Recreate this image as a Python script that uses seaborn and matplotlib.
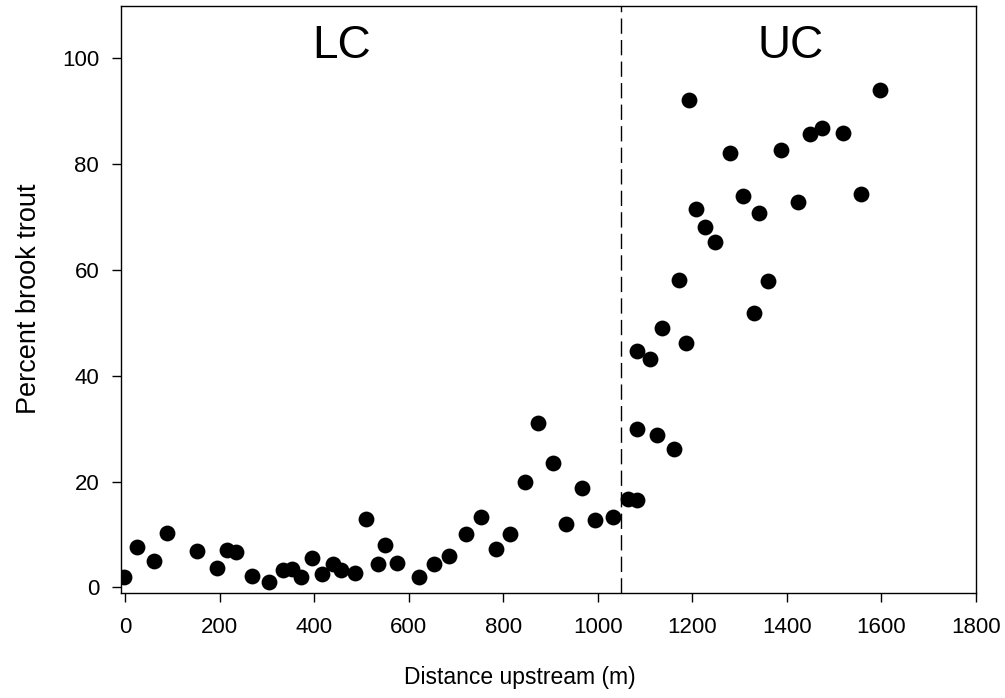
import pandas as pd
import matplotlib.pyplot as plt
import seaborn as sns

# distance upstream (m) and percent brook trout
distance = [-2, 25, 61, 87, 152, 193, 215, 235, 269, 305, 334, 353, 372, 396, 416,
            440, 457, 485, 510, 534, 549, 576, 621, 653, 686, 720, 753, 784, 815, 846,
            873, 905, 933, 966, 995, 1033, 1065, 1083, 1083, 1083, 1111, 1126, 1137,
            1162, 1172, 1186, 1193, 1209, 1227, 1248, 1280, 1308, 1331, 1342, 1361,
            1388, 1423, 1450, 1474, 1520, 1557, 1598]
percent = [2.0, 7.7, 5.0, 10.2, 6.9, 3.6, 7.1, 6.6, 2.1, 1.1, 3.3, 3.4, 1.9, 5.5, 2.5,
           4.5, 3.3, 2.7, 12.9, 4.5, 8.0, 4.7, 2.0, 4.5, 5.9, 10.1, 13.4, 7.2, 10.1, 19.9,
           31.0, 23.6, 12.0, 18.8, 12.7, 13.3, 16.7, 16.5, 30.0, 44.6, 43.2, 28.8, 49.0,
           26.1, 58.1, 46.2, 92.2, 71.6, 68.2, 65.3, 82.2, 73.9, 51.9, 70.8, 58.0,
           82.7, 72.9, 85.8, 86.9, 85.9, 74.4, 94.1]

boundary = 1050
reach_labels = ["LC", "UC"]
reach_label_x = [457, 1409]

df = pd.DataFrame({"distance": distance, "percent": percent})

sns.set_style("ticks")
plt.rcParams["font.family"] = ["Liberation Sans", "DejaVu Sans"]
plt.rcParams["text.color"] = "black"
plt.rcParams["axes.labelcolor"] = "black"
plt.rcParams["xtick.color"] = "black"
plt.rcParams["ytick.color"] = "black"

fig = plt.figure(figsize=(10.05, 6.98), dpi=100)
ax = fig.add_axes([0.1201, 0.1509, 0.8507, 0.8412])

sns.scatterplot(data=df, x="distance", y="percent", ax=ax, color="black",
                s=130, edgecolor="black", linewidth=0, legend=False)

ax.axvline(boundary, color="black", lw=1.0, linestyle=(0, (11, 4.5)))

for lab, xpos in zip(reach_labels, reach_label_x):
    ax.text(xpos, 100, lab, ha="center", va="baseline", fontsize=33, color="black")

ax.set_xlim(-10, 1800)
ax.set_ylim(-1, 110)
ax.set_xticks(range(0, 1801, 200))
ax.set_yticks(range(0, 101, 20))

ax.set_xlabel("Distance upstream (m)", fontsize=16.5, labelpad=20)
ax.xaxis.label.set_x(0.467)
ax.set_ylabel("Percent brook trout", fontsize=19.5, labelpad=14)
ax.tick_params(axis="both", labelsize=16, length=6.5, width=1.0,
               color="black", labelcolor="black", direction="out")
ax.tick_params(axis="x", pad=11)
ax.tick_params(axis="y", pad=9)
for sp in ax.spines.values():
    sp.set_visible(True)
    sp.set_color("black")
    sp.set_linewidth(1.0)

fig.savefig("out.png", dpi=100)
